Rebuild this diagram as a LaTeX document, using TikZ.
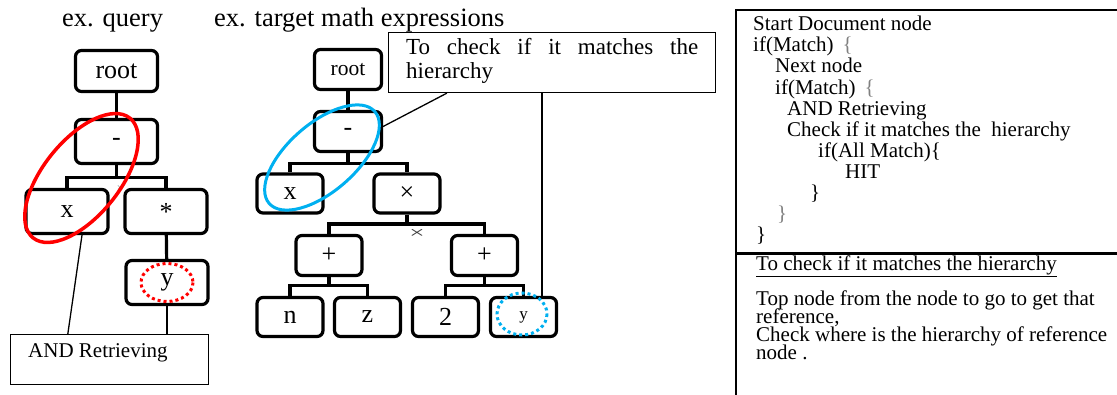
\documentclass[tikz,border=0pt]{standalone}
\usepackage{fontspec}
\setmainfont{Liberation Serif}
\usepackage{xcolor}
\definecolor{markRed}  {RGB}{255,   0,   0}
\definecolor{markCyan} {RGB}{  0, 176, 240}
\usetikzlibrary{
  calc,
  positioning,
}

\begin{document}
\begin{tikzpicture}[
  x=1pt, y=-1pt,
  treebox/.style={draw, rounded corners=6pt, line width=3.2pt, inner sep=0pt},
  qbox/.style={treebox, minimum width=82pt, minimum height=44pt,
    font=\fontsize{26}{26}\selectfont},
  tbox/.style={treebox, minimum width=66pt, minimum height=39pt,
    font=\fontsize{26}{26}\selectfont},
  stem/.style={line width=3.2pt},
  lead/.style={line width=1.3pt},
  notebox/.style={draw, line width=1.3pt, inner sep=0pt},
  heading/.style={anchor=base west, inner sep=0pt, font=\fontsize{26.5}{26.5}\selectfont},
  codeline/.style={anchor=base west, inner sep=0pt, font=\fontsize{21}{21}\selectfont},
]
  % Page: 1pt = 1px of the screenshot, y grows downwards
  \useasboundingbox (0,0) rectangle (1117,394);
  \clip (0,0) rectangle (1117,394);

  % Headings
  \node[heading] (qhead) at (62,26.7) {ex. query};
  \node[heading] (thead) at (214,26.7) {ex. target math expressions};

  % Query tree
  \node[qbox, minimum height=41pt] (qroot) at (116.5,71) {root};
  \node[qbox] (qminus) at (116.5,141.5) {-};
  \node[qbox] (qx)     at (67,211.5)    {x};
  \node[qbox] (qstar)  at (166,211.5)   {*};
  \node[qbox] (qy)     at (167,282.5)   {y};
  \coordinate (qfork) at (116.5,177.5);

  \draw[stem] (qroot) -- (qminus);
  \draw[stem] (qminus) -- (qfork);
  \draw[stem] (qx.north) |- (qfork) -| (qstar.north);
  \draw[stem] (qstar) -- (qy);
  \node[font=\fontsize{11}{11}\selectfont, text=gray, inner sep=0pt] (qcross) at (120,189) {×};

  % Query marks
  \draw[markRed, line width=3.5pt, rotate around={51:(81.5,178)}]
    (81.5,178) ellipse (77 and 38);
  \draw[markRed, line width=3pt, dash pattern=on 3pt off 3pt]
    (qy.center) ellipse (26 and 19);

  % AND Retrieving note
  \node[notebox, minimum width=198pt, minimum height=50pt] (andbox) at (109.5,359.5) {};
  \node[codeline] (andtext) at (28,357) {AND Retrieving};
  \draw[lead] ($(qx.south)+(15,0)$) -- ($(andbox.north west)+(58,0)$);
  \draw[lead] (qy.south) -- (qy.south |- andbox.north);

  % Target tree
  \node[tbox, minimum width=67pt, minimum height=40pt, font=\fontsize{21.5}{21.5}\selectfont]
    (troot) at (348,69.5) {root};
  \node[tbox, minimum width=67pt, minimum height=40pt] (tminus) at (348,131.5) {-};
  \node[tbox] (tx)     at (290,193.5)   {x};
  \node[tbox] (ttimes) at (407,193.5)   {×};
  \node[tbox, minimum height=40pt] (tplusl) at (329,255.5) {+};
  \node[tbox, minimum height=40pt] (tplusr) at (484.5,255.5) {+};
  \node[tbox] (tn)   at (290,317)   {n};
  \node[tbox] (tz)   at (367.5,317) {z};
  \node[tbox] (ttwo) at (445.5,317) {2};
  \node[tbox, font=\fontsize{17}{17}\selectfont] (ty) at (523.5,317) {y};
  \coordinate (tforka) at (348,163.5);
  \coordinate (tforkb) at (407,224);
  \coordinate (tforkc) at (329,285.5);
  \coordinate (tforkd) at (484.5,285.5);

  \draw[stem] (troot) -- (tminus);
  \draw[stem] (tminus) -- (tforka);
  \draw[stem] (tx.north) |- (tforka) -| (ttimes.north);
  \draw[stem] (ttimes) -- (tforkb);
  \draw[stem] (tplusl.north) |- (tforkb) -| (tplusr.north);
  \draw[stem] (tplusl) -- (tforkc);
  \draw[stem] (tn.north) |- (tforkc) -| (tz.north);
  \draw[stem] (tplusr) -- (tforkd);
  \draw[stem] (ttwo.north) |- (tforkd) -| (ty.north);
  \node[font=\fontsize{17}{17}\selectfont, text=black!75, inner sep=0pt, xscale=1.6]
    (tcross) at (417,234) {×};

  % Target marks
  \draw[markCyan, line width=3pt, rotate around={41:(322,157.5)}]
    (322,157.5) ellipse (70 and 34);
  \draw[markCyan, line width=3pt, dash pattern=on 3pt off 3pt]
    ($(ty.center)+(-1.5,-3)$) ellipse (25 and 21);

  % Hierarchy callout
  \node[notebox, minimum width=327pt, minimum height=60pt] (callout) at (552,62.5) {};
  \node[anchor=base west, inner sep=0pt, font=\fontsize{23}{23}\selectfont]
    (callout1) at (406,54.3) {\makebox[292pt][s]{To check if it matches the}};
  \node[anchor=base west, inner sep=0pt, font=\fontsize{23}{23}\selectfont]
    (callout2) at (406,78.3) {hierarchy};
  \coordinate (tyhook) at ($(ty.north)+(18.5,0)$);
  \draw[lead] ($(callout.south west)+(59,0)$) -- ($(tminus.east)+(0,-5)$);
  \draw[lead] (callout.south -| tyhook) -- (tyhook);

  % Right panel: search procedure
  \draw[line width=2.7pt] (1125,10) -- (736,10) -- (736,400);
  \draw[line width=3pt] (736,253) -- (1125,253);

  \foreach \cx/\cy/\txt [count=\i] in {
      753/30.7/{Start Document node},
      753/51.8/{if(Match)\hspace{9pt}{\color{gray}\{}},
      775/72.9/{Next node},
      775/94/{if(Match)\hspace{9pt}{\color{gray}\{}},
      787/115/{AND Retrieving},
      787/136/{Check if it matches the\ \ hierarchy},
      818/157/{if(All Match)\{},
      845/178/{HIT},
      810/199/{\}},
      777/220/{{\color{gray}\}}},
      756/241/{\}}} {
    \node[codeline] (code\i) at (\cx,\cy) {\txt};
  }

  \node[codeline] (hiertitle) at (756,270) {\underline{To check if it matches the hierarchy}};
  \node[codeline] (hier1) at (756,305.7) {Top node from the node to go to get that};
  \node[codeline] (hier2) at (756,323.3) {reference,};
  \node[codeline] (hier3) at (756,341.7) {Check where is the hierarchy of reference};
  \node[codeline] (hier4) at (756,359.3) {node .};

\end{tikzpicture}
\end{document}
